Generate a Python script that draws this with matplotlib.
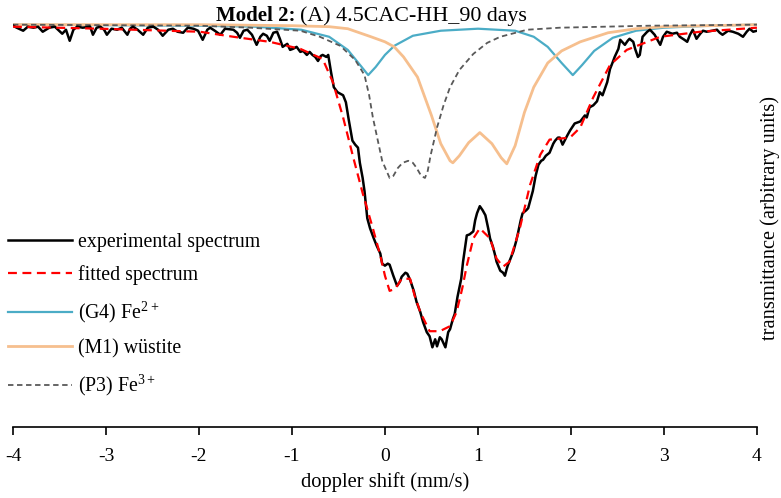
import matplotlib
matplotlib.use("Agg")
import matplotlib.pyplot as plt
from matplotlib.lines import Line2D

plt.rcParams['font.family'] = ['Liberation Serif', 'DejaVu Serif']
plt.rcParams['mathtext.fontset'] = 'custom'
plt.rcParams['mathtext.rm'] = 'Liberation Serif'
plt.rcParams['axes.unicode_minus'] = False

# experimental spectrum (doppler shift mm/s, transmittance arb. units)
exp_x = [-4.00, -3.96, -3.89, -3.84, -3.78, -3.73, -3.68, -3.61, -3.55, -3.47,
         -3.43, -3.39, -3.35, -3.31, -3.25, -3.17, -3.14, -3.10, -3.06, -3.02,
         -2.99, -2.94, -2.88, -2.83, -2.77, -2.74, -2.71, -2.66, -2.60, -2.55,
         -2.49, -2.44, -2.39, -2.33, -2.28, -2.23, -2.17, -2.12, -2.06, -2.01,
         -1.96, -1.91, -1.88, -1.83, -1.77, -1.72, -1.63, -1.59, -1.56, -1.52,
         -1.48, -1.43, -1.38, -1.34, -1.31, -1.27, -1.24, -1.20, -1.16, -1.13,
         -1.10, -1.05, -1.02, -0.99, -0.95, -0.91, -0.88, -0.84, -0.81, -0.78,
         -0.75, -0.72, -0.69, -0.67, -0.63, -0.61, -0.58, -0.55, -0.51, -0.45,
         -0.42, -0.39, -0.35, -0.32, -0.29, -0.27, -0.24, -0.22, -0.19, -0.16,
         -0.12, -0.09, -0.05, -0.03, 0.00, 0.03, 0.05, 0.09, 0.13, 0.16,
         0.18, 0.22, 0.24, 0.27, 0.31, 0.34, 0.38, 0.41, 0.45, 0.48,
         0.51, 0.54, 0.56, 0.59, 0.61, 0.65, 0.68, 0.70, 0.73, 0.75,
         0.78, 0.82, 0.84, 0.86, 0.88, 0.91, 0.95, 0.97, 0.99, 1.02,
         1.05, 1.08, 1.11, 1.13, 1.16, 1.18, 1.20, 1.24, 1.27, 1.29,
         1.31, 1.32, 1.35, 1.38, 1.41, 1.43, 1.46, 1.48, 1.52, 1.54,
         1.57, 1.59, 1.62, 1.65, 1.68, 1.70, 1.73, 1.77, 1.81, 1.83,
         1.86, 1.88, 1.91, 1.96, 1.99, 2.04, 2.10, 2.15, 2.17, 2.20,
         2.24, 2.28, 2.31, 2.34, 2.39, 2.42, 2.45, 2.47, 2.51, 2.53,
         2.56, 2.58, 2.61, 2.63, 2.67, 2.69, 2.72, 2.74, 2.77, 2.82,
         2.85, 2.90, 2.96, 2.99, 3.03, 3.09, 3.14, 3.17, 3.22, 3.25,
         3.28, 3.31, 3.35, 3.39, 3.42, 3.46, 3.52, 3.57, 3.60, 3.63,
         3.69, 3.74, 3.80, 3.85, 3.89, 3.92, 3.96, 4.00]
exp_y = [-1, -3, -6, -2, -3, -2, -7, -3, -2, -9,
         -5, -16, -5, -2, -3, -2, -10, -3, -2, -5,
         -10, -4, -5, -3, -10, -4, -2, -5, -10, -3,
         -2, -5, -11, -5, -4, -7, -8, -3, -4, -6,
         -15, -5, -3, -6, -10, -4, -5, -8, -13, -6,
         -5, -10, -20, -12, -9, -11, -16, -8, -7, -14,
         -22, -19, -25, -24, -22, -27, -26, -30, -27, -30,
         -32, -36, -31, -30, -32, -30, -47, -62, -67, -70,
         -77, -94, -115, -119, -122, -137, -152, -165, -192, -202,
         -212, -219, -227, -237, -239, -237, -238, -249, -259, -255,
         -250, -246, -247, -253, -264, -275, -285, -295, -305, -309,
         -320, -312, -319, -310, -312, -320, -305, -302, -292, -287,
         -270, -252, -235, -222, -209, -208, -205, -194, -187, -180,
         -184, -189, -202, -212, -220, -227, -235, -244, -246, -249,
         -242, -239, -232, -225, -215, -207, -194, -187, -184, -182,
         -172, -165, -150, -139, -135, -134, -130, -127, -118, -115,
         -112, -112, -119, -110, -105, -98, -96, -90, -92, -82,
         -80, -76, -67, -70, -57, -44, -37, -32, -24, -15,
         -18, -20, -16, -14, -17, -24, -32, -30, -12, -7,
         -5, -10, -20, -12, -7, -9, -8, -12, -15, -17,
         -10, -5, -14, -9, -6, -7, -6, -5, -8, -10,
         -6, -7, -9, -12, -7, -4, -7, -6]

# fitted spectrum
fit_x = [-4.00, -3.06, -1.99, -1.63, -1.24, -0.91, -0.67, -0.56, -0.45, -0.34,
         -0.24, -0.13, -0.05, 0.00, 0.05, 0.11, 0.18, 0.27, 0.32, 0.38,
         0.48, 0.59, 0.70, 0.77, 0.83, 0.88, 0.95, 1.02, 1.13, 1.20,
         1.27, 1.34, 1.45, 1.56, 1.67, 1.77, 1.88, 1.99, 2.10, 2.24,
         2.42, 2.60, 2.96, 3.39, 4.00]
fit_y = [-2, -4, -7, -12, -17, -24, -34, -57, -92, -132,
         -167, -202, -229, -249, -264, -262, -252, -252, -269, -285,
         -304, -304, -299, -285, -262, -239, -212, -202, -212, -232,
         -240, -235, -202, -159, -129, -114, -113, -112, -102, -72,
         -40, -25, -12, -7, -3]

# (G4) Fe2+ doublet
g4_x = [-4.0, -2.0, -1.4, -0.9, -0.6, -0.4, -0.25, -0.18, -0.1, 0.0,
        0.1, 0.3, 0.6, 1.0, 1.4, 1.6, 1.75, 1.9, 2.02, 2.12,
        2.25, 2.45, 2.7, 3.0, 3.5, 4.0]
g4_y = [0, -1, -2, -5, -12, -25, -42, -50, -42, -30,
        -21, -11, -6, -4, -6, -12, -22, -38, -50, -40,
        -26, -13, -6, -3, -1, 0]

# (M1) wustite doublet
m1_x = [-4.0, -2.0, -1.0, -0.6, -0.4, -0.15, 0.0, 0.1, 0.2, 0.35,
        0.5, 0.6, 0.7, 0.73, 0.8, 0.9, 1.02, 1.15, 1.25, 1.31,
        1.4, 1.5, 1.6, 1.75, 1.9, 2.1, 2.4, 2.7, 3.0, 3.5, 4.0]
m1_y = [0, 0, -1, -2, -4, -12, -17, -22, -32, -52,
        -90, -118, -135, -137, -130, -117, -107, -118, -132, -138,
        -120, -87, -62, -38, -26, -17, -8, -4, -2, -1, 0]

# (P3) Fe3+ doublet
p3_x = [-4.0, -2.0, -1.45, -0.91, -0.70, -0.48, -0.32, -0.22, -0.17, -0.13,
        -0.03, 0.05, 0.09, 0.14, 0.19, 0.25, 0.30, 0.34, 0.39, 0.43,
        0.46, 0.49, 0.56, 0.63, 0.70, 0.80, 0.95, 1.10, 1.24, 1.53,
        1.88, 2.85, 4.0]
p3_y = [0, -1, -3, -6, -12, -21, -35, -50, -70, -92,
        -135, -152, -150, -142, -137, -135, -137, -142, -150, -152,
        -145, -130, -102, -80, -62, -45, -29, -18, -12, -5,
        -3, -1, 0]

c_g4 = '#4bacc6'
c_m1 = '#f6bf8e'
c_p3 = '#595959'

fig = plt.figure(figsize=(7.81, 4.98), dpi=100)
ax = fig.add_axes([0.0166, 0.1426, 0.9526, 0.82])

ax.plot(g4_x, g4_y, color=c_g4, lw=1.6)
ax.plot(m1_x, m1_y, color=c_m1, lw=2.0)
ax.plot(p3_x, p3_y, color=c_p3, lw=1.3, dashes=(3, 2))
ax.plot(exp_x, exp_y, color='black', lw=1.8)
ax.plot(fit_x, fit_y, color='red', lw=1.6, dashes=(4, 2.5))

ax.set_xlim(-4, 4)
ax.set_ylim(-399, 6)
ax.set_xticks(range(-4, 5))
ax.set_yticks([])
for s in ['top', 'right', 'left']:
    ax.spines[s].set_visible(False)
ax.spines['bottom'].set_linewidth(1.2)
ax.tick_params(axis='x', direction='out', length=6, width=1.2, labelsize=14, pad=9)
ax.set_xlabel('doppler shift (mm/s)', fontsize=14.8, labelpad=5)

# title: bold part + regular part
t1 = fig.text(0.276, 0.968, 'Model 2:', weight='bold', ha='left', va='center', fontsize=15)
fig.canvas.draw()
bb = t1.get_window_extent()
fig.text(bb.x1 / fig.bbox.width + 0.006, 0.968, '(A) 4.5CAC-HH_90 days',
         ha='left', va='center', fontsize=15.8)

fig.text(0.986, 0.563, 'transmittance (arbitrary units)', rotation=90,
         ha='center', va='center', fontsize=14.7)

handles = [
    Line2D([], [], color='black', lw=1.8),
    Line2D([], [], color='red', lw=1.6, dashes=(4, 2.5)),
    Line2D([], [], color=c_g4, lw=1.6),
    Line2D([], [], color=c_m1, lw=2.0),
    Line2D([], [], color=c_p3, lw=1.3, dashes=(3, 2)),
]
labels = ['experimental spectrum', 'fitted spectrum', r'(G4) Fe$^{2+}$',
          '(M1) wüstite', r'(P3) Fe$^{3+}$']
fig.legend(handles, labels, loc='upper left', bbox_to_anchor=(0.003, 0.545),
           frameon=False, fontsize=14.3, handlelength=3.2, handletextpad=0.3,
           labelspacing=0.7, borderaxespad=0, borderpad=0.3)

fig.savefig('out.png', dpi=100)
